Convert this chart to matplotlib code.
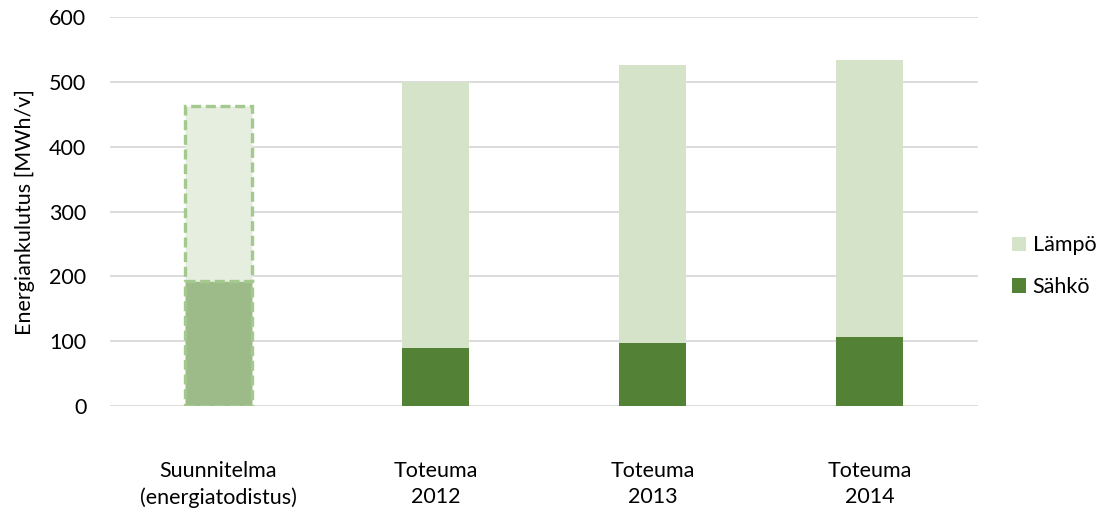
import matplotlib
matplotlib.use("Agg")
import matplotlib.pyplot as plt
from matplotlib.patches import Patch

plt.rcParams['font.family'] = ['Lato', 'DejaVu Sans']

categories = ["Suunnitelma\n(energiatodistus)", "Toteuma\n2012", "Toteuma\n2013", "Toteuma\n2014"]
sahko = [192, 89, 97, 106]
lampo = [271, 411, 429, 428]
series_names = ["Lämpö", "Sähkö"]
yticks = [0, 100, 200, 300, 400, 500, 600]

col_sahko = "#538135"
col_lampo = "#D5E3C8"
col_sahko_plan = "#9DBA89"
col_lampo_plan = "#E6EEDF"
col_plan_edge = "#A3C98E"

FS = 15.5

fig = plt.figure(figsize=(10.99, 5.15), dpi=100)
ax = fig.add_axes([0.1001, 0.212, 0.7899, 0.7545])

x = list(range(len(categories)))
w = 0.31

# Planned values (dashed outline), then measured values
dash = (0, (3, 1.4))
ax.bar(x[0], sahko[0], w, color=col_sahko_plan, edgecolor=col_plan_edge,
       linestyle=dash, linewidth=2.4, zorder=3)
ax.bar(x[0], lampo[0], w, bottom=sahko[0], color=col_lampo_plan, edgecolor=col_plan_edge,
       linestyle=dash, linewidth=2.4, zorder=3)
ax.bar(x[1:], sahko[1:], w, color=col_sahko, zorder=3)
ax.bar(x[1:], lampo[1:], w, bottom=sahko[1:], color=col_lampo, zorder=3)

ax.set_xlim(-0.5, 3.5)
ax.set_ylim(0, 600)
ax.set_yticks(yticks)
ax.set_yticklabels([str(v) for v in yticks], fontsize=FS, color="#000000")
ax.set_xticks(x)
ax.set_xticklabels(categories, fontsize=FS, linespacing=1.38)
ax.tick_params(axis='both', length=0)
ax.tick_params(axis='x', pad=40)
ax.tick_params(axis='y', pad=17)
ax.grid(axis='y', color="#D9D9D9", linewidth=1.3, zorder=0)
for s in ax.spines.values():
    s.set_visible(False)

ax.set_ylabel("Energiankulutus [MWh/v]", fontsize=FS, labelpad=10)

handles = [Patch(facecolor=col_lampo, label=series_names[0]),
           Patch(facecolor=col_sahko, label=series_names[1])]
fig.legend(handles=handles, loc='center left', bbox_to_anchor=(0.921, 0.483),
           frameon=False, fontsize=FS, handlelength=0.65, handleheight=0.65,
           handletextpad=0.3, labelspacing=1.0, borderpad=0, borderaxespad=0)

fig.savefig("out.png", dpi=100)
